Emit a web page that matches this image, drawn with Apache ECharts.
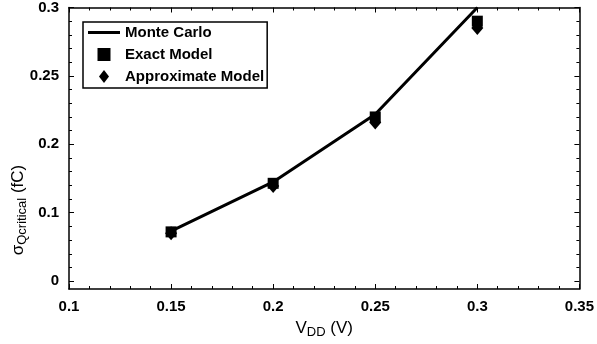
<!DOCTYPE html>
<html>
<head>
<meta charset="utf-8">
<script src="https://cdn.jsdelivr.net/npm/echarts@6/dist/echarts.min.js"></script>
<style>
  html, body { margin: 0; padding: 0; background: #fff; }
  #chart { width: 597px; height: 344px; }
</style>
</head>
<body>
<div id="chart"></div>
<script>
// Supply voltage (V)
const vdd = [0.15, 0.2, 0.25, 0.3];
// Standard deviation of the critical charge (fC)
const monteCarlo = [0.073, 0.145, 0.222, 0.3];
const exactModel = [0.072, 0.143, 0.220, 0.290];
const approxModel = [0.070, 0.139, 0.216, 0.285];
// Vertical axis ticks, drawn evenly spaced
const yTickValues = [0, 0.1, 0.2, 0.25, 0.3];
const yTickLabels = ['0', '0.1', '0.2', '0.25', '0.3'];

const FONT = 'Liberation Sans, Arial, Helvetica, sans-serif';

// The vertical scale is spaced by tick rather than by value, so each value is
// placed on a tick-index scale, linear between neighbouring ticks.
function toTickIndex(v) {
  const n = yTickValues.length;
  for (let i = 1; i < n; i++) {
    if (v <= yTickValues[i] || i === n - 1) {
      const a = yTickValues[i - 1], b = yTickValues[i];
      return (i - 1) + (v - a) / (b - a);
    }
  }
  return 0;
}
const pairs = (ys) => vdd.map((x, i) => [x, toTickIndex(ys[i])]);

const yMin = -0.115;
const yMax = yTickValues.length - 1;
const majorIdx = yTickLabels.map((_, i) => i);
const minorIdx = [];
for (let i = 0; i < yMax; i++) {
  for (let k = 1; k < 5; k++) minorIdx.push(i + k / 5);
}

function yAxisDef(position, major) {
  return {
    type: 'value',
    position: position,
    min: yMin,
    max: yMax,
    splitLine: { show: false },
    axisLine: { show: major, onZero: false, lineStyle: { color: '#000', width: 1.5 } },
    axisTick: {
      show: true,
      inside: true,
      length: major ? 5 : 3,
      customValues: major ? majorIdx : minorIdx,
      lineStyle: { color: '#000', width: 1 }
    },
    axisLabel: {
      show: major && position === 'left',
      customValues: majorIdx,
      formatter: (v) => yTickLabels[Math.round(v)],
      color: '#000',
      fontFamily: FONT,
      fontWeight: 'bold',
      fontSize: 15,
      margin: 10
    }
  };
}

function xAxisDef(position) {
  const bottom = position === 'bottom';
  return {
    type: 'value',
    position: position,
    min: 0.1,
    max: 0.35,
    interval: 0.05,
    splitLine: { show: false },
    axisLine: { onZero: false, lineStyle: { color: '#000', width: 1.5 } },
    axisTick: { inside: true, length: 5, lineStyle: { color: '#000', width: 1 } },
    minorTick: { show: true, splitNumber: 5, length: 3, lineStyle: { color: '#000', width: 1 } },
    axisLabel: {
      show: bottom,
      color: '#000',
      fontFamily: FONT,
      fontWeight: 'bold',
      fontSize: 15,
      margin: 10
    },
    name: bottom ? '{t|V}{sub|DD}{t| (V)}' : '',
    nameLocation: 'middle',
    nameGap: 28,
    nameTextStyle: {
      rich: {
        t: { fontFamily: FONT, fontSize: 17, color: '#000', lineHeight: 22 },
        sub: { fontFamily: FONT, fontSize: 13, color: '#000', lineHeight: 13, verticalAlign: 'bottom' }
      }
    }
  };
}

const chart = echarts.init(document.getElementById('chart'), null, { renderer: 'canvas' });
chart.setOption({
  animation: false,
  backgroundColor: '#fff',
  grid: { left: 69, right: 10, top: 5, bottom: 50, containLabel: false },
  xAxis: [xAxisDef('bottom'), xAxisDef('top')],
  yAxis: [yAxisDef('left', true), yAxisDef('left', false), yAxisDef('right', true), yAxisDef('right', false)],
  legend: {
    orient: 'vertical',
    left: 83,
    top: 22,
    padding: [3, 3, 4, 5],
    itemWidth: 32,
    itemHeight: 13,
    itemGap: 7,
    borderColor: '#000',
    borderWidth: 1.5,
    backgroundColor: '#fff',
    textStyle: { color: '#000', fontFamily: FONT, fontWeight: 'bold', fontSize: 15 },
    data: [
      { name: 'Monte Carlo', icon: 'path://M0,0H32V3H0Z' },
      { name: 'Exact Model', icon: 'path://M0,0H10V10H0Z' },
      { name: 'Approximate Model', icon: 'path://M5,0L10,6.5L5,13L0,6.5Z' }
    ]
  },
  graphic: [{
    type: 'text',
    x: 18,
    y: 210,
    rotation: Math.PI / 2,
    style: {
      text: '{t|σ}{sub|Qcritical}{t| (fC)}',
      align: 'center',
      verticalAlign: 'middle',
      rich: {
        t: { fontFamily: FONT, fontSize: 17, fill: '#000', lineHeight: 22 },
        sub: { fontFamily: FONT, fontSize: 13, fill: '#000', lineHeight: 13, verticalAlign: 'bottom' }
      }
    }
  }],
  series: [
    {
      name: 'Monte Carlo',
      type: 'line',
      data: pairs(monteCarlo),
      symbol: 'none',
      color: '#000',
      lineStyle: { color: '#000', width: 3 },
      z: 3
    },
    {
      name: 'Approximate Model',
      type: 'scatter',
      data: pairs(approxModel),
      symbol: 'diamond',
      symbolSize: [12, 14],
      itemStyle: { color: '#000', opacity: 1 },
      z: 2
    },
    {
      name: 'Exact Model',
      type: 'scatter',
      data: pairs(exactModel),
      symbol: 'rect',
      symbolSize: 11,
      itemStyle: { color: '#000', opacity: 1 },
      z: 2
    }
  ]
});
</script>
</body>
</html>
